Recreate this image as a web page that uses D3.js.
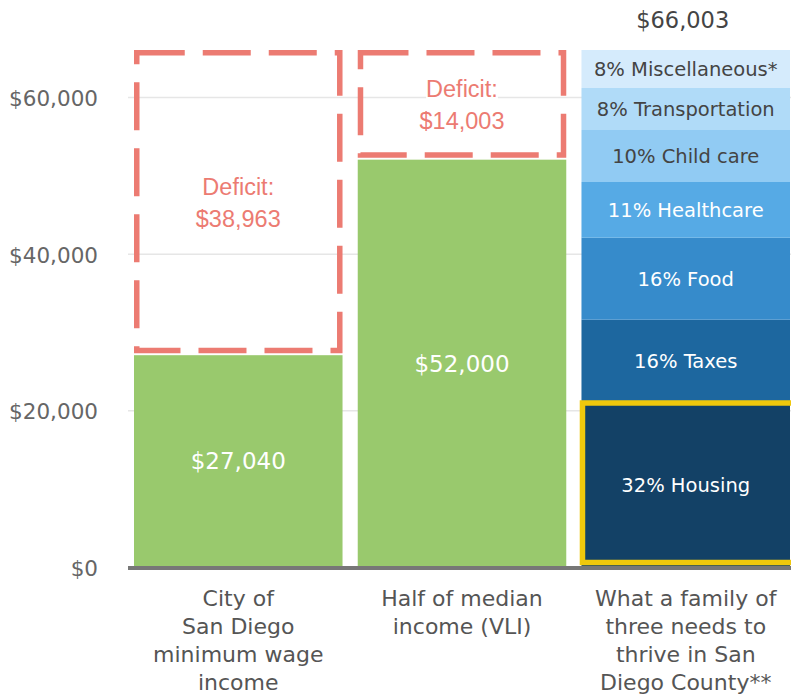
<!DOCTYPE html>
<html>
<head>
<meta charset="utf-8">
<script src="https://cdn.jsdelivr.net/npm/d3@7"></script>
<style>
  html,body{margin:0;padding:0;background:#fff;}
  svg{display:block;}
</style>
</head>
<body>
<div id="chart"></div>
<script>
// Income vs. what a family needs — San Diego
const categories = ['minwage', 'vli', 'thrive'];
const categoryLines = [
  ['City of', 'San Diego', 'minimum wage', 'income'],
  ['Half of median', 'income (VLI)'],
  ['What a family of', 'three needs to', 'thrive in San', 'Diego County**']
];
const incomes = [27040, 52000];
const deficits = [38963, 14003];
const needTotal = 66003;
const budgetItems = ['Housing', 'Taxes', 'Food', 'Healthcare', 'Child care', 'Transportation', 'Miscellaneous*'];
const budgetShares = [32, 16, 16, 11, 10, 8, 8];
const budgetValues = [21065, 10506, 10469, 7111, 6638, 5362, 4852];
const budgetColors = ['#134166', '#1d679f', '#368bcb', '#56aae5', '#91cbf3', '#b0dbf8', '#d5ebfc'];
const budgetText = ['#fff', '#fff', '#fff', '#fff', '#444', '#444', '#444'];
const yTicks = [0, 20000, 40000, 60000];

(function() {
  const W = 791, H = 694;
  const FONT = '"DejaVu Sans", sans-serif';
  const RED = '#ec7b72', GREEN = '#99c96d', YELLOW = '#f0c80c';

  const svg = d3.select('#chart').append('svg').attr('width', W).attr('height', H);

  const x = d3.scaleBand().domain(categories).range([134, 790]).paddingInner(0.068);
  const y = d3.scaleLinear().domain([0, needTotal]).range([567, 50]);
  const fmt = v => '$' + d3.format(',')(v);

  // Grid + y labels
  const ax = svg.append('g').attr('transform', 'translate(128,0)')
    .call(d3.axisLeft(y).tickValues(yTicks).tickSize(-(W - 128)).tickPadding(30).tickFormat(d => fmt(d)));
  ax.select('.domain').remove();
  ax.selectAll('line').attr('stroke', '#e6e6e6').attr('stroke-width', 1.5);
  ax.selectAll('text').attr('fill', '#666').attr('dy', '0.4em')
    .style('font-family', FONT).style('font-size', '21.5px');

  // Green income bars
  incomes.forEach((v, i) => {
    const c = categories[i];
    svg.append('rect').attr('x', x(c)).attr('y', y(v)).attr('width', x.bandwidth()).attr('height', y(0) - y(v))
      .attr('fill', GREEN);
    svg.append('text').attr('x', x(c) + x.bandwidth() / 2).attr('y', (y(v) + y(0)) / 2).attr('dy', '0.36em')
      .attr('text-anchor', 'middle').attr('fill', '#fff')
      .style('font-family', FONT).style('font-size', '23px').text(fmt(v));
  });

  // Deficit dashed boxes
  deficits.forEach((d, i) => {
    const c = categories[i], top = y(incomes[i] + d), bot = y(incomes[i]);
    const sw = 5.5;
    svg.append('rect').attr('x', x(c) + sw / 2).attr('y', top + sw / 2)
      .attr('width', x.bandwidth() - sw).attr('height', bot - 2 - sw / 2 - (top + sw / 2))
      .attr('fill', 'none').attr('stroke', RED).attr('stroke-width', sw)
      .attr('stroke-dasharray', '48,18');
    const cx = x(c) + x.bandwidth() / 2, cy = (top + bot) / 2;
    [['Deficit:', cy - 7.5], [fmt(d), cy + 24.5]].forEach(([t, by]) => {
      const bg = svg.append('rect').attr('fill', '#fff');
      const tx = svg.append('text').attr('x', cx).attr('y', by).attr('text-anchor', 'middle')
        .attr('fill', RED).style('font-family', '"Liberation Sans", Arial, sans-serif').style('font-size', '23.5px').text(t);
      const b = tx.node().getBBox();
      bg.attr('x', b.x).attr('y', b.y + 4).attr('width', b.width).attr('height', b.height - 6);
    });
  });

  // Stacked budget bar
  const c3 = categories[2];
  const cum = d3.cumsum(budgetValues);
  budgetValues.forEach((v, i) => {
    const y1 = y(cum[i]), y0 = y(cum[i] - v);
    svg.append('rect').attr('x', x(c3)).attr('y', y1).attr('width', x.bandwidth()).attr('height', y0 - y1)
      .attr('fill', budgetColors[i]);
    svg.append('text').attr('x', x(c3) + x.bandwidth() / 2).attr('y', (y0 + y1) / 2).attr('dy', '0.36em')
      .attr('text-anchor', 'middle').attr('fill', budgetText[i])
      .style('font-family', FONT).style('font-size', '19.5px')
      .text(budgetShares[i] + '% ' + budgetItems[i]);
  });
  // highlight housing
  const hTop = y(budgetValues[0]);
  svg.append('rect').attr('x', x(c3) + 1).attr('y', hTop + 1)
    .attr('width', x.bandwidth() + 4).attr('height', y(0) - hTop - 5.5)
    .attr('fill', 'none').attr('stroke', YELLOW).attr('stroke-width', 5.5);

  svg.append('text').attr('x', x(c3) + x.bandwidth() / 2 - 3).attr('y', 28).attr('text-anchor', 'middle')
    .attr('fill', '#444').style('font-family', FONT).style('font-size', '22.5px').text(fmt(needTotal));

  // Baseline
  svg.append('line').attr('x1', 128).attr('x2', W).attr('y1', y(0) + 1).attr('y2', y(0) + 1)
    .attr('stroke', '#777').attr('stroke-width', 4);

  // Category labels
  categories.forEach((c, i) => {
    const t = svg.append('text').attr('text-anchor', 'middle').attr('fill', '#555')
      .style('font-family', FONT).style('font-size', '22px');
    categoryLines[i].forEach((ln, j) => {
      t.append('tspan').attr('x', x(c) + x.bandwidth() / 2).attr('y', 606 + j * 28).text(ln);
    });
  });
})();
</script>
</body>
</html>
